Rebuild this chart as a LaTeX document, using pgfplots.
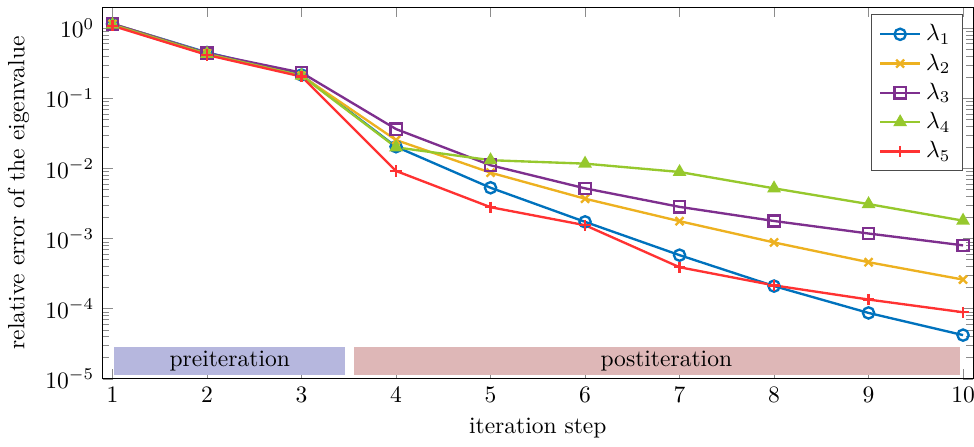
\documentclass[border=0pt]{standalone}
\usepackage{pgfplots}
\pgfplotsset{compat=1.18}
\definecolor{c1}{RGB}{0,114,189}
\definecolor{c2}{RGB}{237,177,32}
\definecolor{c3}{RGB}{126,47,142}
\definecolor{c4}{RGB}{150,200,45}
\definecolor{c5}{RGB}{255,50,50}
\definecolor{prec}{RGB}{182,183,222}
\definecolor{postc}{RGB}{222,183,183}
\begin{document}
\begin{tikzpicture}
\begin{axis}[
  scale only axis,
  width=370pt, height=158pt,
  ymode=log,
  xmin=0.894, xmax=10.106,
  ymin=1e-5, ymax=2.0,
  xtick={1,2,3,4,5,6,7,8,9,10},
  xlabel={iteration step},
  ylabel={relative error of the eigenvalue},
  tick style={color=black!45},
  legend style={at={(0.988,0.98)}, anchor=north east, draw=black!70, legend cell align=left},
  every axis plot/.append style={line width=1pt, mark size=2.4pt, mark options={solid}},
]
\fill[prec] (axis cs:1.02,2.8e-5) rectangle (axis cs:3.46,1.15e-5);
\fill[postc] (axis cs:3.55,2.8e-5) rectangle (axis cs:9.97,1.15e-5);
\node at (axis cs:2.24,1.8e-5) {preiteration};
\node at (axis cs:6.86,1.8e-5) {postiteration};
\addplot[color=c1, mark=o] coordinates {
 (1,1.15) (2,0.45) (3,0.215) (4,0.0204) (5,0.0053) (6,0.00173) (7,5.8e-4) (8,2.1e-4) (9,8.7e-5) (10,4.2e-5)};
\addlegendentry{$\lambda_1$}
\addplot[color=c2, mark=x] coordinates {
 (1,1.15) (2,0.44) (3,0.21) (4,0.0254) (5,0.0087) (6,0.0037) (7,0.00177) (8,8.8e-4) (9,4.6e-4) (10,2.6e-4)};
\addlegendentry{$\lambda_2$}
\addplot[color=c3, mark=square] coordinates {
 (1,1.15) (2,0.44) (3,0.232) (4,0.0364) (5,0.0111) (6,0.0052) (7,0.00283) (8,0.00178) (9,0.00118) (10,8.0e-4)};
\addlegendentry{$\lambda_3$}
\addplot[color=c4, mark=triangle*] coordinates {
 (1,1.12) (2,0.43) (3,0.21) (4,0.020) (5,0.0131) (6,0.0117) (7,0.0089) (8,0.0052) (9,0.0031) (10,0.0018)};
\addlegendentry{$\lambda_4$}
\addplot[color=c5, mark=+] coordinates {
 (1,1.08) (2,0.415) (3,0.204) (4,0.0092) (5,0.0028) (6,0.00155) (7,3.9e-4) (8,2.15e-4) (9,1.35e-4) (10,8.9e-5)};
\addlegendentry{$\lambda_5$}
\coordinate (axR) at (rel axis cs:1,1);
\end{axis}
\coordinate (bbSW) at (current bounding box.south west);
\pgfresetboundingbox
\useasboundingbox (bbSW) rectangle ([xshift=0.4pt,yshift=3pt]axR);
\end{tikzpicture}
\end{document}
